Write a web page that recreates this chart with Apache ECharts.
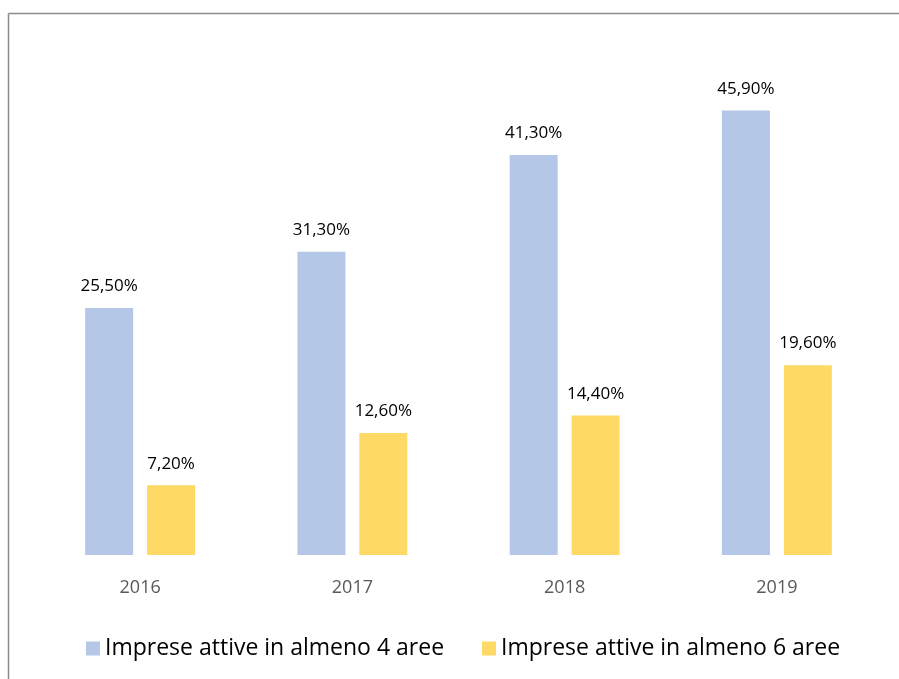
<!DOCTYPE html>
<html><head><meta charset="utf-8">
<script src="https://cdn.jsdelivr.net/npm/echarts@6/dist/echarts.min.js"></script>
<style>html,body{margin:0;padding:0;background:#fff}#c{width:899px;height:679px}</style>
</head><body><div id="c"></div>
<script>
const categories = ['2016', '2017', '2018', '2019'];
const seriesNames = ['Imprese attive in almeno 4 aree', 'Imprese attive in almeno 6 aree'];
const almeno4 = [25.5, 31.3, 41.3, 45.9];
const almeno6 = [7.2, 12.6, 14.4, 19.6];
const fmt = v => v.toFixed(2).replace('.', ',') + '%';
const chart = echarts.init(document.getElementById('c'));
const font = 'Open Sans';
const legendCommon = {
  top: 632, itemWidth: 14, itemHeight: 14, icon: 'rect',
  textStyle: {fontFamily: font, fontSize: 23, color: '#000'}
};
chart.setOption({
  animation: false,
  graphic: [
    {type: 'line', shape: {x1: 8.5, y1: 13.5, x2: 899, y2: 13.5}, style: {stroke: '#8c8c8c', lineWidth: 1.5}},
    {type: 'line', shape: {x1: 8.5, y1: 13.5, x2: 8.5, y2: 679}, style: {stroke: '#8c8c8c', lineWidth: 1.5}}
  ],
  grid: {left: 34, right: 16, top: 70.7, bottom: 124, containLabel: false},
  legend: [
    Object.assign({left: 81, data: [seriesNames[0]]}, legendCommon),
    Object.assign({left: 477, data: [seriesNames[1]]}, legendCommon)
  ],
  xAxis: {
    type: 'category', data: categories,
    axisLine: {show: false}, axisTick: {show: false},
    axisLabel: {fontFamily: font, fontSize: 18, color: '#595959', margin: 24}
  },
  yAxis: {type: 'value', min: 0, max: 50, show: false, splitLine: {show: false}},
  series: [
    {name: seriesNames[0], type: 'bar', data: almeno4, barWidth: 48, barGap: '29%',
     itemStyle: {color: '#B4C7E7'},
     label: {show: true, position: 'top', distance: 13, fontFamily: font, fontSize: 17, color: '#000', formatter: p => fmt(p.value)}},
    {name: seriesNames[1], type: 'bar', data: almeno6, barWidth: 48,
     itemStyle: {color: '#FFD966'},
     label: {show: true, position: 'top', distance: 13, fontFamily: font, fontSize: 17, color: '#000', formatter: p => fmt(p.value)}}
  ]
});
</script></body></html>
